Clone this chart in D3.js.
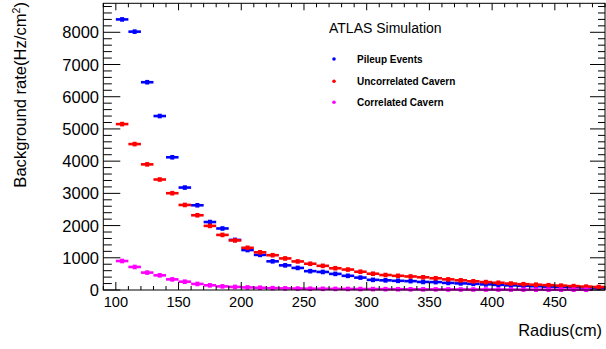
<!DOCTYPE html>
<html><head><meta charset="utf-8">
<script src="https://cdn.jsdelivr.net/npm/d3@7"></script>
<style>body{margin:0;background:#fff}svg{display:block}text{font-family:"Liberation Sans",Arial,sans-serif}</style>
</head><body><svg id="c" width="606" height="349"></svg>
<script>
const binLow = [100,110,120,130,140,150,160,170,180,190,200,210,220,230,240,250,260,270,280,290,300,310,320,330,340,350,360,370,380,390,400,410,420,430,440,450,460,470,480];
const binWidth = 10;
const pileup = [8400,8020,6450,5400,4120,3180,2630,2110,1910,1555,1240,1090,890,765,685,585,560,500,440,385,315,300,285,275,250,245,220,205,190,175,160,145,130,118,105,95,85,75,65];
const uncorrelated = [5150,4530,3900,3430,3005,2640,2320,1990,1710,1540,1310,1170,1080,980,887,815,750,675,635,567,505,465,440,420,395,365,330,300,270,245,225,200,180,165,150,135,120,105,92];
const correlated = [900,715,540,455,330,258,188,145,112,95,80,70,58,50,45,40,37,34,32,30,28,26,24,22,20,19,18,17,16,15,14,13,12,11,10,10,9,8];
const seriesNames = ["Pileup Events","Uncorrelated Cavern","Correlated Cavern"];
const seriesColors = ["#0000ff","#ff0000","#ff00ff"];
const xTicks = [100,150,200,250,300,350,400,450];
const yTicks = [0,1000,2000,3000,4000,5000,6000,7000,8000];
const xDomain = [90,490], yDomain = [0,8900];

const L=103.3, R=605, T=3.3, B=290;
const svg = d3.select("#c");
const x = d3.scaleLinear().domain(xDomain).range([L,R]);
const y = d3.scaleLinear().domain(yDomain).range([B,T]);

const allSeries = [pileup, uncorrelated, correlated];
[0,1,2].forEach(si=>{
  const g = svg.append("g").attr("fill", seriesColors[si]);
  const data = allSeries[si].map((v,i)=>({lo:binLow[i], v}));
  g.selectAll("rect.bar").data(data).enter().append("rect")
    .attr("x", d=>x(d.lo)).attr("width", d=>x(d.lo+binWidth)-x(d.lo))
    .attr("y", d=>y(d.v)-1.3).attr("height", 2.6);
  g.selectAll("rect.m").data(data).enter().append("rect")
    .attr("x", d=>x(d.lo+binWidth/2)-2).attr("width", 4)
    .attr("y", d=>y(d.v)-2.3).attr("height", 4.6);
});

const ax = svg.append("g").attr("stroke","#000").attr("stroke-width",1).attr("fill","none");
ax.append("rect").attr("x",L).attr("y",T).attr("width",R-L).attr("height",B-T);
const xMinor = d3.range(xDomain[0], xDomain[1]+0.1, 10);
xMinor.forEach(v=>{
  const major = xTicks.includes(v);
  const px = x(v);
  ax.append("line").attr("x1",px).attr("x2",px).attr("y1",B).attr("y2",B-(major?8:4));
  ax.append("line").attr("x1",px).attr("x2",px).attr("y1",T).attr("y2",T+(major?7:4));
});
const yMinor = d3.range(0, yDomain[1], 200);
yMinor.forEach(v=>{
  const major = yTicks.includes(v);
  const py = y(v);
  ax.append("line").attr("x1",L).attr("x2",L+(major?17:8.5)).attr("y1",py).attr("y2",py);
  ax.append("line").attr("x1",R).attr("x2",R-(major?15:7)).attr("y1",py).attr("y2",py);
});

svg.append("g").selectAll("text").data(xTicks).enter().append("text")
  .attr("x",d=>x(d)).attr("y",306.5).attr("text-anchor","middle")
  .attr("font-size","14.6px").text(d=>d);
svg.append("g").selectAll("text").data(yTicks).enter().append("text")
  .attr("x",99).attr("y",d=>y(d)+6).attr("text-anchor","end")
  .attr("font-size","16.5px").text(d=>d);

const yt = svg.append("text").attr("transform","translate(26,2) rotate(-90)")
  .attr("text-anchor","end").attr("font-size","16.6px");
yt.append("tspan").text("Background rate(Hz/cm");
yt.append("tspan").attr("font-size","10.5px").attr("dy",-6.5).text("2");
yt.append("tspan").attr("dy",6.5).text(")");
svg.append("text").attr("x",602).attr("y",336).attr("text-anchor","end")
  .attr("font-size","16.4px").text("Radius(cm)");

svg.append("text").attr("x",329).attr("y",32.5).attr("font-size","14px").text("ATLAS Simulation");
const legY = [59,81.3,102.3];
seriesNames.forEach((n,i)=>{
  svg.append("circle").attr("cx",334).attr("cy",legY[i]).attr("r",1.8).attr("fill",seriesColors[i]);
  svg.append("text").attr("x",357).attr("y",legY[i]+3.6).attr("font-size","10px")
    .attr("font-weight","bold").text(n);
});
</script></body></html>
